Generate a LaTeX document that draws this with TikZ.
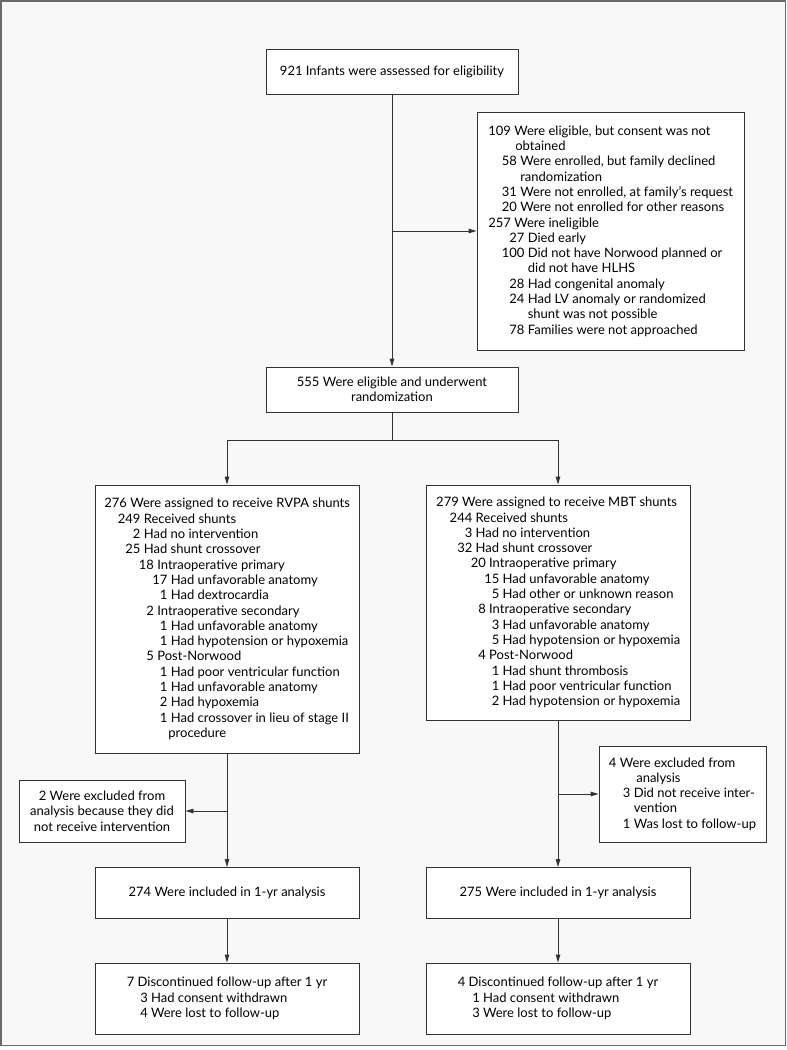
\documentclass[tikz,border=0pt]{standalone}
\usepackage{fontspec}
\setmainfont{Lato}
\usetikzlibrary{arrows.meta}

\definecolor{framegray}{HTML}{6A6A6A}
\definecolor{bggray}{HTML}{F8F8F8}
\definecolor{linegray}{HTML}{333333}

\newcommand\boxfont{\fontsize{13}{15.3}\selectfont}
% number #2 set flush right at #1 from the left of the line
\newcommand\numat[2]{\hbox to #1{\hfil #2}\ }

\begin{document}
\begin{tikzpicture}[x=1pt,y=1pt,
    box/.style={draw=linegray,fill=white,line width=0.9pt,inner sep=0pt,font=\boxfont},
    arr/.style={draw=linegray,line width=0.9pt,-{Triangle[length=8pt,width=4.5pt]}},
    ln/.style={draw=linegray,line width=0.9pt}]
  \useasboundingbox (0,0) rectangle (787,-1050);
  \draw[framegray,fill=bggray,line width=1.5pt] (1,-1) rectangle (785.5,-1045.5);

  \node[box,minimum width=252,minimum height=45] (assess) at (392,-71.5)
    {921 Infants were assessed for eligibility};
  \node[box,align=left,minimum width=267,minimum height=238] (notrand) at (610.5,-231)
    {\numat{23pt}{109}Were eligible, but consent was not\\
     \numat{24pt}{}obtained\\
     \numat{29pt}{58}Were enrolled, but family declined\\
     \numat{29pt}{}randomization\\
     \numat{29pt}{31}Were not enrolled, at family's request\\
     \numat{29pt}{20}Were not enrolled for other reasons\\
     \numat{23pt}{257}Were ineligible\\
     \numat{36.5pt}{27}Died early\\
     \numat{36.5pt}{100}Did not have Norwood planned or\\
     \numat{36.5pt}{}did not have HLHS\\
     \numat{36.5pt}{28}Had congenital anomaly\\
     \numat{36.5pt}{24}Had LV anomaly or randomized\\
     \numat{36.5pt}{}shunt was not possible\\
     \numat{36.5pt}{78}Families were not approached};
  \node[box,align=center,minimum width=252,minimum height=45] (rand) at (392,-389.5)
    {555 Were eligible and underwent\\randomization};

  \node[box,align=left,minimum width=264,minimum height=268] (rvpa) at (227,-619)
    {\numat{23pt}{276}Were assigned to receive RVPA shunts\\
     \numat{36.5pt}{249}Received shunts\\
     \numat{36.5pt}{2}Had no intervention\\
     \numat{36.5pt}{25}Had shunt crossover\\
     \numat{50pt}{18}Intraoperative primary\\
     \numat{63.5pt}{17}Had unfavorable anatomy\\
     \numat{63.5pt}{1}Had dextrocardia\\
     \numat{50pt}{2}Intraoperative secondary\\
     \numat{63.5pt}{1}Had unfavorable anatomy\\
     \numat{63.5pt}{1}Had hypotension or hypoxemia\\
     \numat{50pt}{5}Post-Norwood\\
     \numat{63.5pt}{1}Had poor ventricular function\\
     \numat{63.5pt}{1}Had unfavorable anatomy\\
     \numat{63.5pt}{2}Had hypoxemia\\
     \numat{63.5pt}{1}Had crossover in lieu of stage II\\
     \numat{61pt}{}procedure};
  \node[box,align=left,minimum width=264,minimum height=235] (mbt) at (558,-602.5)
    {\numat{23pt}{279}Were assigned to receive MBT shunts\\
     \numat{36.5pt}{244}Received shunts\\
     \numat{36.5pt}{3}Had no intervention\\
     \numat{36.5pt}{32}Had shunt crossover\\
     \numat{50pt}{20}Intraoperative primary\\
     \numat{63.5pt}{15}Had unfavorable anatomy\\
     \numat{63.5pt}{5}Had other or unknown reason\\
     \numat{50pt}{8}Intraoperative secondary\\
     \numat{63.5pt}{3}Had unfavorable anatomy\\
     \numat{63.5pt}{5}Had hypotension or hypoxemia\\
     \numat{50pt}{4}Post-Norwood\\
     \numat{63.5pt}{1}Had shunt thrombosis\\
     \numat{63.5pt}{1}Had poor ventricular function\\
     \numat{63.5pt}{2}Had hypotension or hypoxemia};

  \node[box,align=center,minimum width=166,minimum height=62] (exclrvpa) at (102,-811)
    {2 Were excluded from\\analysis because they did\\not receive intervention};
  \node[box,align=left,minimum width=167,minimum height=96] (exclmbt) at (682.5,-794)
    {\numat{7.5pt}{4}Were excluded from\\
     \numat{24pt}{}analysis\\
     \numat{21.5pt}{3}Did not receive inter-\\
     \numat{21.5pt}{}vention\\
     \numat{21.5pt}{1}Was lost to follow-up};

  \node[box,minimum width=264,minimum height=51] (yrrvpa) at (227,-893)
    {274 Were included in 1-yr analysis};
  \node[box,minimum width=264,minimum height=51] (yrmbt) at (558,-893)
    {275 Were included in 1-yr analysis};

  \node[box,align=left,minimum width=264,minimum height=71] (fuprvpa) at (227,-998.5)
    {\numat{7.5pt}{7}Discontinued follow-up after 1 yr\\
     \numat{21pt}{3}Had consent withdrawn\\
     \numat{21pt}{4}Were lost to follow-up};
  \node[box,align=left,minimum width=264,minimum height=71] (fupmbt) at (558,-998.5)
    {\numat{7.5pt}{4}Discontinued follow-up after 1 yr\\
     \numat{22pt}{1}Had consent withdrawn\\
     \numat{22pt}{3}Were lost to follow-up};

  \coordinate (split) at (392,-440);
  \draw[arr] (assess.south) -- (rand.north);
  \draw[arr] (assess.south |- notrand.west) -- (notrand.west);
  \draw[ln] (rand.south) -- (split);
  \draw[arr] (split) -| (rvpa.north);
  \draw[arr] (split) -| (mbt.north);
  \draw[arr] (rvpa.south) -- (yrrvpa.north);
  \draw[arr] (mbt.south) -- (yrmbt.north);
  \draw[arr] (exclrvpa.east -| rvpa.south) -- (exclrvpa.east);
  \draw[arr] (exclmbt.west -| mbt.south) -- (exclmbt.west);
  \draw[arr] (yrrvpa.south) -- (fuprvpa.north);
  \draw[arr] (yrmbt.south) -- (fupmbt.north);
\end{tikzpicture}
\end{document}
